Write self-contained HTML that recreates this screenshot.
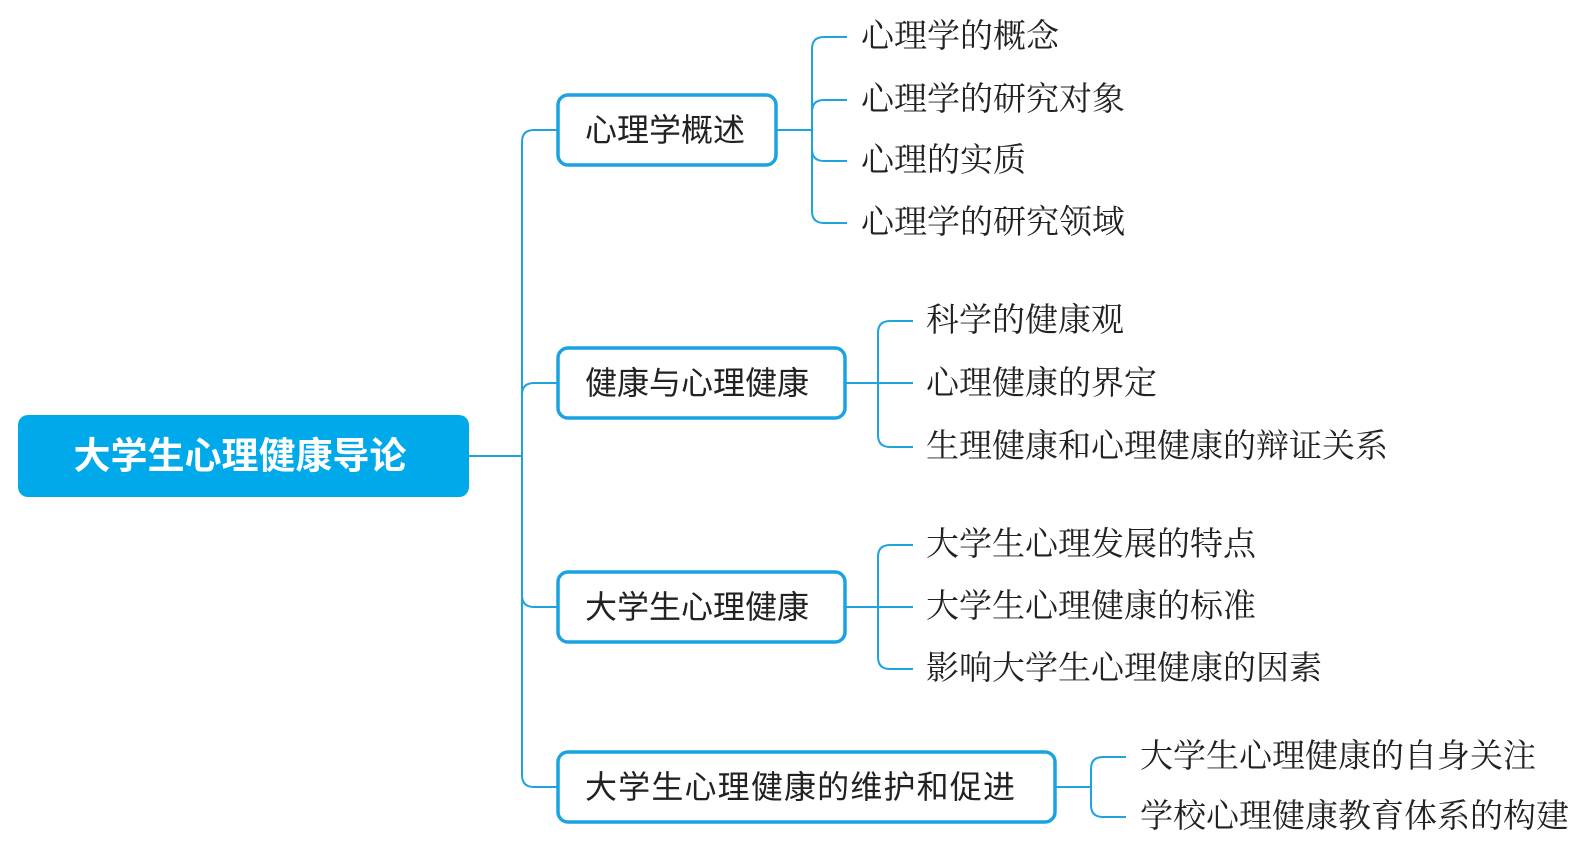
<!DOCTYPE html>
<html><head><meta charset="utf-8"><style>
html,body{margin:0;padding:0;background:#fff;width:1591px;height:850px;overflow:hidden}
</style></head><body>
<svg width="1591" height="850" viewBox="0 0 1591 850" xmlns="http://www.w3.org/2000/svg">
<g fill="none" stroke="#1ea3dc" stroke-width="2">
<path d="M469 456 H522"/>
<path d="M558 130 H534 Q522 130 522 142 V775 Q522 787 534 787 H558"/>
<path d="M558 383 H534 Q522 383 522 395"/>
<path d="M558 607 H534 Q522 607 522 595"/>
<path d="M776 130 H812"/>
<path d="M847 37 H824 Q812 37 812 49 V211 Q812 223 824 223 H847"/>
<path d="M847 100 H824 Q812 100 812 112"/>
<path d="M847 161 H824 Q812 161 812 149"/>
<path d="M845 383 H913"/>
<path d="M913 321 H890 Q878 321 878 333 V435 Q878 447 890 447 H913"/>
<path d="M845 607 H913"/>
<path d="M913 545 H890 Q878 545 878 557 V657 Q878 669 890 669 H913"/>
<path d="M1055 787 H1091"/>
<path d="M1126 757 H1103 Q1091 757 1091 769 V805 Q1091 817 1103 817 H1126"/>
</g>
<rect x="18" y="415" width="451" height="82" rx="10" fill="#00aaea"/>
<g fill="#fff" stroke="#1aa3e0" stroke-width="3.5">
<rect x="558" y="95" width="218" height="70" rx="10"/>
<rect x="558" y="348" width="287" height="70" rx="10"/>
<rect x="558" y="572" width="287" height="70" rx="10"/>
<rect x="558" y="752" width="497" height="70" rx="10"/>
</g>
<text x="240" y="456" text-anchor="middle" dominant-baseline="central" font-family="Liberation Sans,Noto Sans CJK SC,sans-serif" font-size="37" font-weight="bold" fill="#fff">大学生心理健康导论</text>
<g font-family="Liberation Sans,Noto Sans CJK SC,sans-serif" font-size="32" fill="#222" dominant-baseline="central">
<text x="585" y="130">心理学概述</text>
<text x="585" y="383">健康与心理健康</text>
<text x="585" y="607">大学生心理健康</text>
<text x="585" y="787" textLength="430">大学生心理健康的维护和促进</text>
</g>
<g font-family="Liberation Serif,Noto Serif CJK SC,serif" font-size="33" fill="#222" dominant-baseline="central">
<text x="861" y="37">心理学的概念</text>
<text x="861" y="100">心理学的研究对象</text>
<text x="861" y="161">心理的实质</text>
<text x="861" y="223">心理学的研究领域</text>
<text x="926" y="321">科学的健康观</text>
<text x="926" y="384">心理健康的界定</text>
<text x="926" y="447">生理健康和心理健康的辩证关系</text>
<text x="926" y="545">大学生心理发展的特点</text>
<text x="926" y="607">大学生心理健康的标准</text>
<text x="926" y="669">影响大学生心理健康的因素</text>
<text x="1140" y="757">大学生心理健康的自身关注</text>
<text x="1140" y="817">学校心理健康教育体系的构建</text>
</g>
</svg>
</body></html>
